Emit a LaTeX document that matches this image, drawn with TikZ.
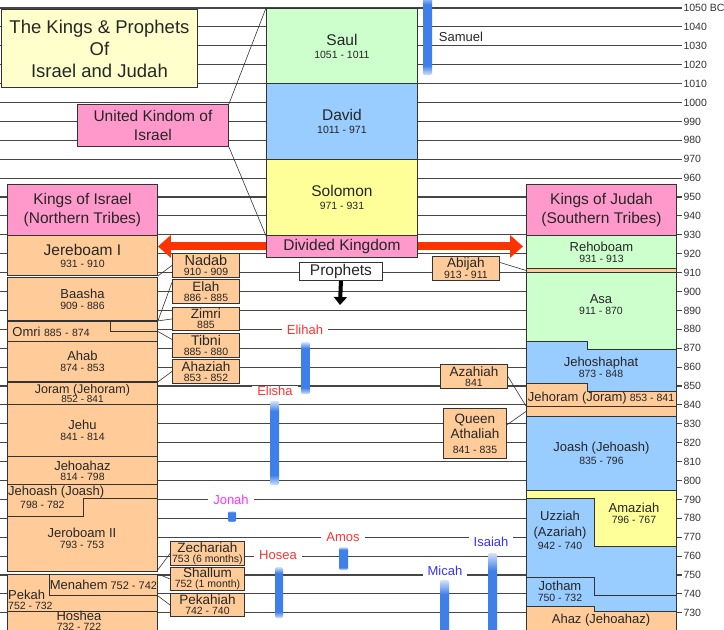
\documentclass[tikz,border=0pt]{standalone}
\usepackage{fontspec}
\setmainfont{Liberation Sans}
\usetikzlibrary{arrows.meta}

\definecolor{korange}{HTML}{FFCC99}
\definecolor{kpink}{HTML}{FF99CC}
\definecolor{kgreen}{HTML}{CCFFCC}
\definecolor{kblue}{HTML}{99CCFF}
\definecolor{kyellow}{HTML}{FFFF99}
\definecolor{tyellow}{HTML}{FFFFCC}
\definecolor{redarrow}{HTML}{FF3300}
\definecolor{barblue}{HTML}{3F7FEA}
\definecolor{barlight}{HTML}{D2E2FA}
\definecolor{prored}{HTML}{FF3333}
\definecolor{problue}{HTML}{3333FF}
\definecolor{promag}{HTML}{FF33FF}

\pgfdeclareverticalshading{seershade}{100bp}{color(0bp)=(barlight); color(25bp)=(barlight); color(31bp)=(barblue); color(69bp)=(barblue); color(75bp)=(barlight); color(100bp)=(barlight)}

\newcommand{\kn}[2][13]{{\fontsize{#1}{#1}\selectfont #2}}

\begin{document}
\begin{tikzpicture}[x=1pt, y=-1pt,
    gridline/.style={gray!55!black, line width=1.1pt},
    tick/.style={anchor=west, inner sep=1pt, font=\fontsize{10.5}{12}\selectfont, text=black!80},
    kbox/.style={draw=black!80, line width=0.9pt, anchor=north west, align=center, inner sep=0pt, text=black!85, font=\fontsize{10.5}{12}\selectfont},
    sbox/.style={kbox, minimum width=67pt, minimum height=24pt, fill=korange, font=\fontsize{10.5}{10}\selectfont},
    kpoly/.style={draw=black!80, line width=0.9pt},
    ktext/.style={align=center, inner sep=0pt, text=black!85, font=\fontsize{10.5}{12}\selectfont},
    seer/.style={fill=white, inner xsep=5pt, inner ysep=0pt, font=\fontsize{13}{14}\selectfont},
    seerbar/.style={shading=seershade, rounded corners=1.5pt},
    link/.style={black!80, line width=0.6pt},
    bigarrow/.style={redarrow, line width=8pt, -{Triangle[length=13pt, width=22pt]}},
]
\useasboundingbox (0,0) rectangle (724,630);
\clip (0,0) rectangle (724,630);

% Time axis
\draw[gridline] (0,8) -- (682,8) node[tick] (t1050) {1050 BC};
\foreach \yr in {1040,1030,...,730}
  \draw[gridline] (0,{8+(1050-\yr)*1.89}) -- (682,{8+(1050-\yr)*1.89}) node[tick] (t\yr) {\yr};

% Title
\node[kbox, fill=tyellow, minimum width=196pt, minimum height=78pt, font=\fontsize{18.5}{22}\selectfont] (title) at (1,9) {The Kings \& Prophets\\Of\\Israel and Judah};
\node[kbox, fill=kpink, minimum width=151pt, minimum height=42pt, font=\fontsize{15.5}{19}\selectfont] (united) at (77,104) {United Kindom of\\Israel};

% United kingdom
\node[kbox, fill=kgreen, minimum width=151pt, minimum height=75pt] (saul) at (266,8) {\kn[15.5]{Saul}\\[1pt]1051 - 1011};
\node[kbox, fill=kblue, minimum width=151pt, minimum height=76pt] (david) at (266,83) {\kn[15.5]{David}\\[1pt]1011 - 971};
\node[kbox, fill=kyellow, minimum width=151pt, minimum height=76pt] (solomon) at (266,159) {\kn[15.5]{Solomon}\\[1pt]971 - 931};
\node[kbox, fill=kpink, minimum width=151pt, minimum height=22pt, font=\fontsize{15.5}{18}\selectfont] (divided) at (266,235) {Divided Kingdom};
\node[kbox, fill=white, minimum width=83pt, minimum height=18pt, font=\fontsize{15.5}{18}\selectfont] (proph) at (299,262) {Prophets};
\coordinate (proph-end) at (340,305);

\draw[link] (united.north east) -- (saul.north west);
\draw[link] (united.south east) -- (solomon.south west);
\draw[line width=4pt, -{Triangle[length=8pt, width=13pt]}] (proph.south) -- (proph-end);

% Kings of Israel
\node[kbox, fill=kpink, minimum width=150pt, minimum height=51pt, font=\fontsize{15.5}{19}\selectfont] (israel) at (7,184) {Kings of Israel\\(Northern Tribes)};
\node[kbox, fill=korange, minimum width=150pt, minimum height=40pt] (jer) at (7,235) {\kn[15.5]{Jereboam I}\\931 - 910};
\node[kbox, fill=korange, minimum width=150pt, minimum height=43pt] (baasha) at (7,277) {\kn{Baasha}\\[-1pt]909 - 886};
\node[kbox, fill=korange, minimum width=150pt, minimum height=20pt, text width=140pt, inner xsep=5pt, align=left] (omri) at (7,321) {\kn{Omri} 885 - 874};
\draw[kpoly] (110,321) -- (110,331) -- (157,331);
\node[kbox, fill=korange, minimum width=150pt, minimum height=40pt] (ahab) at (7,341) {\kn{Ahab}\\[-1pt]874 - 853};
\node[kbox, fill=korange, minimum width=150pt, minimum height=22pt, font=\fontsize{10}{12}\selectfont] (joram) at (7,382) {\kn[12.5]{Joram (Jehoram)}\\[-3pt]852 - 841};
\node[kbox, fill=korange, minimum width=150pt, minimum height=52pt] (jehu) at (7,404) {\kn{Jehu}\\[-1pt]841 - 814};
\node[kbox, fill=korange, minimum width=150pt, minimum height=28pt] (jehoahaz) at (7,456) {\kn{Jehoahaz}\\[-2pt]814 - 798};

\filldraw[kpoly, fill=korange] (7,484) -- (157,484) -- (157,498) -- (83,498) -- (83,516) -- (7,516) -- cycle;
\node[ktext, anchor=west] (jehoash) at (8,492) {\kn{Jehoash (Joash)}};
\node[ktext, anchor=west] (jehoash-yr) at (20,505) {798 - 782};
\filldraw[kpoly, fill=korange] (7,516) -- (83,516) -- (83,498) -- (157,498) -- (157,571) -- (7,571) -- cycle;
\node[ktext] (jero2) at (82,538) {\kn{Jeroboam II}\\[-1pt]793 - 753};
\coordinate (jero2-se) at (157,571);

\node[kbox, fill=korange, minimum width=150pt, minimum height=37pt] (pekah) at (7,574) {};
\node[kbox, fill=korange, minimum width=108pt, minimum height=21pt] (menahem) at (49,574) {\kn{Menahem} \fontsize{11}{12}\selectfont 752 - 742};
\node[ktext, anchor=west, align=left] (pekah-t) at (8,600) {\kn{Pekah}\\[-2.5pt]752 - 732};
\node[kbox, fill=korange, minimum width=150pt, minimum height=40pt] (hoshea) at (7,611) {};
\node[ktext] (hoshea-t) at (79,621) {\kn{Hoshea}\\[-2.5pt]732 - 722};

% Short reigns, Israel
\node[sbox] (nadab) at (172,253) {\kn[14.5]{Nadab}\\910 - 909};
\node[sbox] (elah) at (172,279) {\kn[13.5]{Elah}\\886 - 885};
\node[sbox, minimum height=23pt] (zimri) at (172,307) {\kn[13.5]{Zimri}\\885};
\node[sbox] (tibni) at (172,333) {\kn[14]{Tibni}\\885 - 880};
\node[sbox] (ahaziah) at (172,359) {\kn[13.5]{Ahaziah}\\853 - 852};
\node[sbox, minimum width=74pt] (zech) at (170,541) {\kn[13.5]{Zechariah}\\753 (6 months)};
\node[sbox, minimum width=74pt, minimum height=23pt] (shallum) at (170,567) {\kn[13.5]{Shallum}\\752 (1 month)};
\node[sbox, minimum width=74pt, minimum height=23pt] (pekahiah) at (170,593) {\kn[13.5]{Pekahiah}\\742 - 740};

\draw[link] (jer.south east) -- (nadab.west);
\draw[link] (baasha.south east) -- (elah.165);
\draw[link] (baasha.south east) -- (zimri.west);
\draw[link] (omri.east) -- (tibni.170);
\draw[link] (ahab.south east) -- (ahaziah.west);
\draw[link] (jero2-se) -- (zech.west);
\draw[link] (pekah.north east) -- (shallum.west);
\draw[link] (menahem.south east) -- (pekahiah.west);

% Kings of Judah
\node[kbox, fill=kpink, minimum width=150pt, minimum height=51pt, font=\fontsize{15.5}{19}\selectfont] (judah) at (526,184) {Kings of Judah\\(Southern Tribes)};
\node[kbox, fill=kgreen, minimum width=150pt, minimum height=33pt] (reh) at (526,235) {\kn{Rehoboam}\\[-1pt]931 - 913};
\node[kbox, fill=korange, minimum width=150pt, minimum height=4pt] (abij-strip) at (526,268) {};

\filldraw[kpoly, fill=kgreen] (526,272) -- (676,272) -- (676,349) -- (587,349) -- (587,341) -- (526,341) -- cycle;
\node[ktext] (asa) at (601,305) {\kn{Asa}\\[-1pt]911 - 870};
\filldraw[kpoly, fill=kblue] (526,341) -- (587,341) -- (587,349) -- (676,349) -- (676,391) -- (587,391) -- (587,383) -- (526,383) -- cycle;
\node[ktext] (jehosh) at (601,367) {\kn{Jehoshaphat}\\[-1pt]873 - 848};
\filldraw[kpoly, fill=korange] (526,383) -- (587,383) -- (587,391) -- (676,391) -- (676,406) -- (526,406) -- cycle;
\node[ktext] (jehoram) at (601,398) {\kn{Jehoram (Joram)} 853 - 841};
\node[kbox, fill=korange, minimum width=150pt, minimum height=10pt] (ath-strip) at (526,406) {};
\node[kbox, fill=kblue, minimum width=150pt, minimum height=74pt] (joash) at (526,416) {\kn{Joash (Jehoash)}\\[1pt]835 - 796};

\filldraw[kpoly, fill=kyellow] (526,490) -- (676,490) -- (676,546) -- (594,546) -- (594,498) -- (526,498) -- cycle;
\node[ktext] (amaziah) at (634,513) {\kn{Amaziah}\\[-1pt]796 - 767};
\filldraw[kpoly, fill=kblue] (526,498) -- (594,498) -- (594,546) -- (676,546) -- (676,611) -- (594,611) -- (594,606) -- (526,606) -- cycle;
\node[ktext, font=\fontsize{10.5}{16}\selectfont] (uzziah) at (560,530) {\kn{Uzziah}\\\kn{(Azariah)}\\[-3pt]942 - 740};
\draw[kpoly] (526,577) -- (594,577) -- (594,595) -- (676,595);
\node[ktext] (jotham) at (560,591) {\kn{Jotham}\\[-1pt]750 - 732};
\filldraw[kpoly, fill=korange] (526,606) -- (594,606) -- (594,611) -- (676,611) -- (676,640) -- (526,640) -- cycle;
\node[ktext] (ahaz) at (601,620) {\kn{Ahaz (Jehoahaz)}};

% Short reigns, Judah
\node[sbox] (abijah) at (432,256) {\kn[13.5]{Abijah}\\913 - 911};
\node[sbox] (azahiah) at (440,364) {\kn[13.5]{Azahiah}\\841};
\node[sbox, minimum width=63pt, minimum height=50pt, font=\fontsize{10.5}{15}\selectfont] (athaliah) at (443,408) {\kn[13.5]{Queen}\\\kn[13.5]{Athaliah}\\841 - 835};

\draw[link] (abijah.10) -- (abij-strip.west);
\draw[link] (azahiah.east) -- (ath-strip.north west);
\draw[link] (athaliah.15) -- (ath-strip.west);

% Divided kingdom arrows
\draw[bigarrow] (divided.west) -- (divided.west -| jer.east);
\draw[bigarrow] (divided.east) -- ([xshift=-3pt]divided.east -| reh.west);

% Prophets
\shade[seerbar] (423,-5) rectangle (432,75);
\node[seer, text=black!85] (samuel) at (461,37) {Samuel};
\shade[seerbar] (301,342) rectangle (310,394);
\node[seer, text=prored] (elihah) at (305,330) {Elihah};
\shade[seerbar] (270,401) rectangle (279,485);
\node[seer, text=prored] (elisha) at (275,391) {Elisha};
\shade[seerbar] (228,511) rectangle (236,522);
\node[seer, text=promag] (jonah) at (231,500) {Jonah};
\shade[seerbar] (339,547) rectangle (348,570);
\node[seer, text=prored] (amos) at (343,537) {Amos};
\shade[seerbar] (275,567) rectangle (283,618);
\node[seer, text=prored] (hosea) at (278,555) {Hosea};
\shade[seerbar] (440,580) rectangle (449,700);
\node[seer, text=problue] (micah) at (445,571) {Micah};
\shade[seerbar] (488,553) rectangle (497,700);
\node[seer, text=problue] (isaiah) at (491,542) {Isaiah};

\end{tikzpicture}
\end{document}
